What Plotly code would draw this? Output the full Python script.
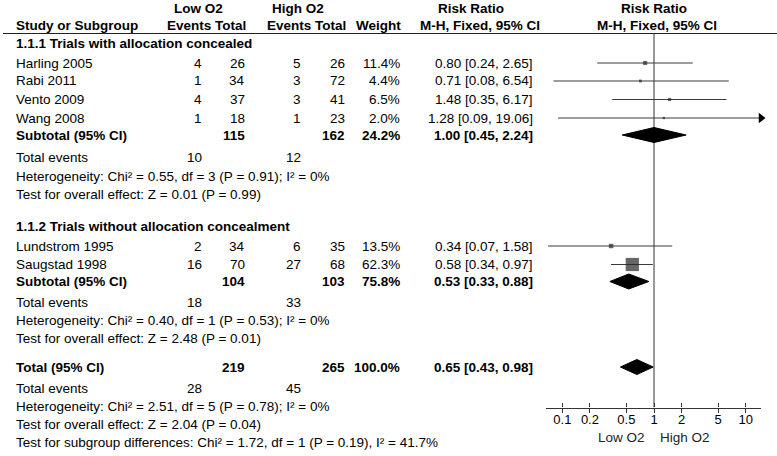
import math
import plotly.graph_objects as go

W, H = 777, 456

# ---------------- data ----------------
studies_g1 = ["Harling 2005", "Rabi 2011", "Vento 2009", "Wang 2008"]
low_events_g1 = [4, 1, 4, 1]
low_total_g1 = [26, 34, 37, 18]
high_events_g1 = [5, 3, 3, 1]
high_total_g1 = [26, 72, 41, 23]
weight_g1 = [11.4, 4.4, 6.5, 2.0]
rr_g1 = [0.80, 0.71, 1.48, 1.28]
lower_g1 = [0.24, 0.08, 0.35, 0.09]
upper_g1 = [2.65, 6.54, 6.17, 19.06]

studies_g2 = ["Lundstrom 1995", "Saugstad 1998"]
low_events_g2 = [2, 16]
low_total_g2 = [34, 70]
high_events_g2 = [6, 27]
high_total_g2 = [35, 68]
weight_g2 = [13.5, 62.3]
rr_g2 = [0.34, 0.58]
lower_g2 = [0.07, 0.34]
upper_g2 = [1.58, 0.97]

group_titles = ["1.1.1 Trials with allocation concealed",
                "1.1.2 Trials without allocation concealment"]

pooled_labels = ["Subtotal (95% CI)", "Subtotal (95% CI)", "Total (95% CI)"]
pooled_low_total = [115, 104, 219]
pooled_high_total = [162, 103, 265]
pooled_weight = [24.2, 75.8, 100.0]
pooled_rr = [1.00, 0.53, 0.65]
pooled_lower = [0.45, 0.33, 0.43]
pooled_upper = [2.24, 0.88, 0.98]
pooled_low_events = [10, 18, 28]
pooled_high_events = [12, 33, 45]
heterogeneity = ["Heterogeneity: Chi² = 0.55, df = 3 (P = 0.91); I² = 0%",
                 "Heterogeneity: Chi² = 0.40, df = 1 (P = 0.53); I² = 0%",
                 "Heterogeneity: Chi² = 2.51, df = 5 (P = 0.78); I² = 0%"]
overall_effect = ["Test for overall effect: Z = 0.01 (P = 0.99)",
                  "Test for overall effect: Z = 2.48 (P = 0.01)",
                  "Test for overall effect: Z = 2.04 (P = 0.04)"]
subgroup_diff = "Test for subgroup differences: Chi² = 1.72, df = 1 (P = 0.19), I² = 41.7%"

tick_values = [0.1, 0.2, 0.5, 1, 2, 5, 10]
tick_labels = ["0.1", "0.2", "0.5", "1", "2", "5", "10"]
favours = ["Low O2", "High O2"]

# ---------------- layout (pixel rows / columns) ----------------
FONT = "Liberation Sans, Arial, sans-serif"
FS = 13.5
rows_g1 = [63, 81, 99.5, 118]
rows_g2 = [246, 264.5]
title_rows = [44, 227]
pooled_rows = [135, 281.5, 367]
events_rows = [157, 302.5, 388]
het_rows = [176, 320, 406]
eff_rows = [195, 338, 424]
diff_row = 442
X_LABEL = 14
X_LE, X_LT, X_HE, X_HT, X_W, X_RR = 203.5, 247, 303, 347, 401.5, 535

annotations = []


def txt(x, y, s, anchor="left", bold=False, size=FS):
    annotations.append(dict(
        x=x / W, y=1 - y / H, xref="paper", yref="paper",
        text=f"<b>{s}</b>" if bold else s, showarrow=False,
        xanchor=anchor, yanchor="middle",
        font=dict(family=FONT, size=size, color="black")))


# headers
txt(198, 8, "Low O2", "center", True)
txt(297.5, 8, "High O2", "center", True)
txt(470.5, 8, "Risk Ratio", "center", True)
txt(653.5, 8, "Risk Ratio", "center", True)
txt(X_LABEL, 26, "Study or Subgroup", "left", True)
txt(213, 26, "Events", "right", True)
txt(248, 26, "Total", "right", True)
txt(313, 26, "Events", "right", True)
txt(348, 26, "Total", "right", True)
txt(403, 26, "Weight", "right", True)
txt(479.5, 26, "M-H, Fixed, 95% CI", "center", True)
txt(657, 26, "M-H, Fixed, 95% CI", "center", True)

groups = [
    (studies_g1, low_events_g1, low_total_g1, high_events_g1, high_total_g1,
     weight_g1, rr_g1, lower_g1, upper_g1, rows_g1),
    (studies_g2, low_events_g2, low_total_g2, high_events_g2, high_total_g2,
     weight_g2, rr_g2, lower_g2, upper_g2, rows_g2),
]

for gi, g in enumerate(groups):
    st, le, lt, he, ht, w, rr, lo, hi, rows = g
    txt(X_LABEL, title_rows[gi], group_titles[gi], "left", True)
    for i in range(len(st)):
        y = rows[i]
        txt(X_LABEL, y, st[i])
        txt(X_LE, y, str(le[i]), "right")
        txt(X_LT, y, str(lt[i]), "right")
        txt(X_HE, y, str(he[i]), "right")
        txt(X_HT, y, str(ht[i]), "right")
        txt(X_W, y, f"{w[i]:.1f}%", "right")
        txt(X_RR, y, f"{rr[i]:.2f} [{lo[i]:.2f}, {hi[i]:.2f}]", "right")

for k in range(3):
    y = pooled_rows[k]
    txt(X_LABEL, y, pooled_labels[k], "left", True)
    txt(X_LT, y, str(pooled_low_total[k]), "right", True)
    txt(X_HT, y, str(pooled_high_total[k]), "right", True)
    txt(X_W, y, f"{pooled_weight[k]:.1f}%", "right", True)
    txt(X_RR, y, f"{pooled_rr[k]:.2f} [{pooled_lower[k]:.2f}, {pooled_upper[k]:.2f}]", "right", True)
    txt(X_LABEL, events_rows[k], "Total events")
    txt(X_LE, events_rows[k], str(pooled_low_events[k]), "right")
    txt(X_HE, events_rows[k], str(pooled_high_events[k]), "right")
    txt(X_LABEL, het_rows[k], heterogeneity[k])
    txt(X_LABEL, eff_rows[k], overall_effect[k])
txt(X_LABEL, diff_row, subgroup_diff)

# favours labels under the axis, anchored at RR = 1
for lab, anc, sh in [(favours[0], "right", -7), (favours[1], "left", 4)]:
    annotations.append(dict(
        x=0, y=1 - 437 / H, xref="x", yref="paper", text=lab, showarrow=False,
        xanchor=anc, yanchor="middle", xshift=sh,
        font=dict(family=FONT, size=FS, color="#222")))

# ---------------- forest plot ----------------
XR = [-1.178, 1.167]
xmax = 10 ** XR[1]
Y_TOP, Y_AXIS = 33.5, 407.5

fig = go.Figure()

# vertical line of no effect
fig.add_trace(go.Scatter(x=[1, 1], y=[Y_TOP, Y_AXIS], mode="lines",
                         line=dict(color="#333", width=1), hoverinfo="skip"))

all_rr = rr_g1 + rr_g2
all_lo = lower_g1 + lower_g2
all_hi = upper_g1 + upper_g2
all_w = weight_g1 + weight_g2
all_rows = rows_g1 + rows_g2

cx, cy = [], []
for lo, hi, y in zip(all_lo, all_hi, all_rows):
    cx += [lo, min(hi, xmax), None]
    cy += [y, y, None]
fig.add_trace(go.Scatter(x=cx, y=cy, mode="lines", line=dict(color="#3a3a3a", width=1.2),
                         hoverinfo="skip", cliponaxis=False))

# arrows for CIs running past the axis
ax_, ay_ = [], []
for hi, y in zip(all_hi, all_rows):
    if hi > xmax:
        ax_.append(xmax)
        ay_.append(y)
fig.add_trace(go.Scatter(x=ax_, y=ay_, mode="markers", cliponaxis=False,
                         marker=dict(symbol="triangle-right", size=9, color="black",
                                     line=dict(width=0)), hoverinfo="skip"))

# weight squares
fig.add_trace(go.Scatter(x=all_rr, y=all_rows, mode="markers", cliponaxis=False,
                         marker=dict(symbol="square", color="#262626",
                                     size=[2 + 0.18 * w for w in all_w],
                                     line=dict(width=0)), hoverinfo="skip"))

# diamonds
DH = 7.5
for rr, lo, hi, y in zip(pooled_rr, pooled_lower, pooled_upper, pooled_rows):
    fig.add_trace(go.Scatter(x=[lo, rr, hi, rr, lo], y=[y, y - DH, y, y + DH, y],
                             mode="lines", fill="toself", fillcolor="black",
                             line=dict(color="black", width=1), hoverinfo="skip"))

# invisible trace on the overlay axis (carries the downward tick marks)
fig.add_trace(go.Scatter(x=[1], y=[Y_AXIS], xaxis="x2", yaxis="y", mode="markers",
                         marker=dict(size=1, opacity=0), hoverinfo="skip"))

# header rule
fig.add_shape(type="line", xref="paper", yref="paper", x0=3 / W, x1=1,
              y0=1 - Y_TOP / H, y1=1 - Y_TOP / H, line=dict(color="#222", width=1.2))

xdom = [546 / W, 761 / W]
fig.update_layout(
    width=W, height=H, margin=dict(l=0, r=0, t=0, b=0),
    paper_bgcolor="white", plot_bgcolor="white", showlegend=False,
    font=dict(family=FONT, size=FS, color="black"),
    annotations=annotations,
    xaxis=dict(type="log", range=XR, domain=xdom, anchor="y",
               showline=True, linecolor="#333", linewidth=1.2,
               ticks="inside", ticklen=4, tickcolor="#333", tickwidth=1.2,
               tickvals=tick_values, ticktext=tick_labels,
               tickfont=dict(family=FONT, size=13, color="black"),
               showgrid=False, zeroline=False),
    xaxis2=dict(type="log", range=XR, domain=xdom, anchor="y", overlaying="x",
                side="bottom", ticks="outside", ticklen=4, tickcolor="#333", tickwidth=1.2,
                tickvals=tick_values, showticklabels=False, showline=False,
                showgrid=False, zeroline=False),
    yaxis=dict(range=[Y_AXIS, Y_TOP], domain=[1 - Y_AXIS / H, 1 - Y_TOP / H],
               visible=False, showgrid=False, zeroline=False),
)

fig.write_html("out.html", config={"displayModeBar": False},
               post_script="document.body.style.margin='0';document.body.style.overflow='hidden';")
